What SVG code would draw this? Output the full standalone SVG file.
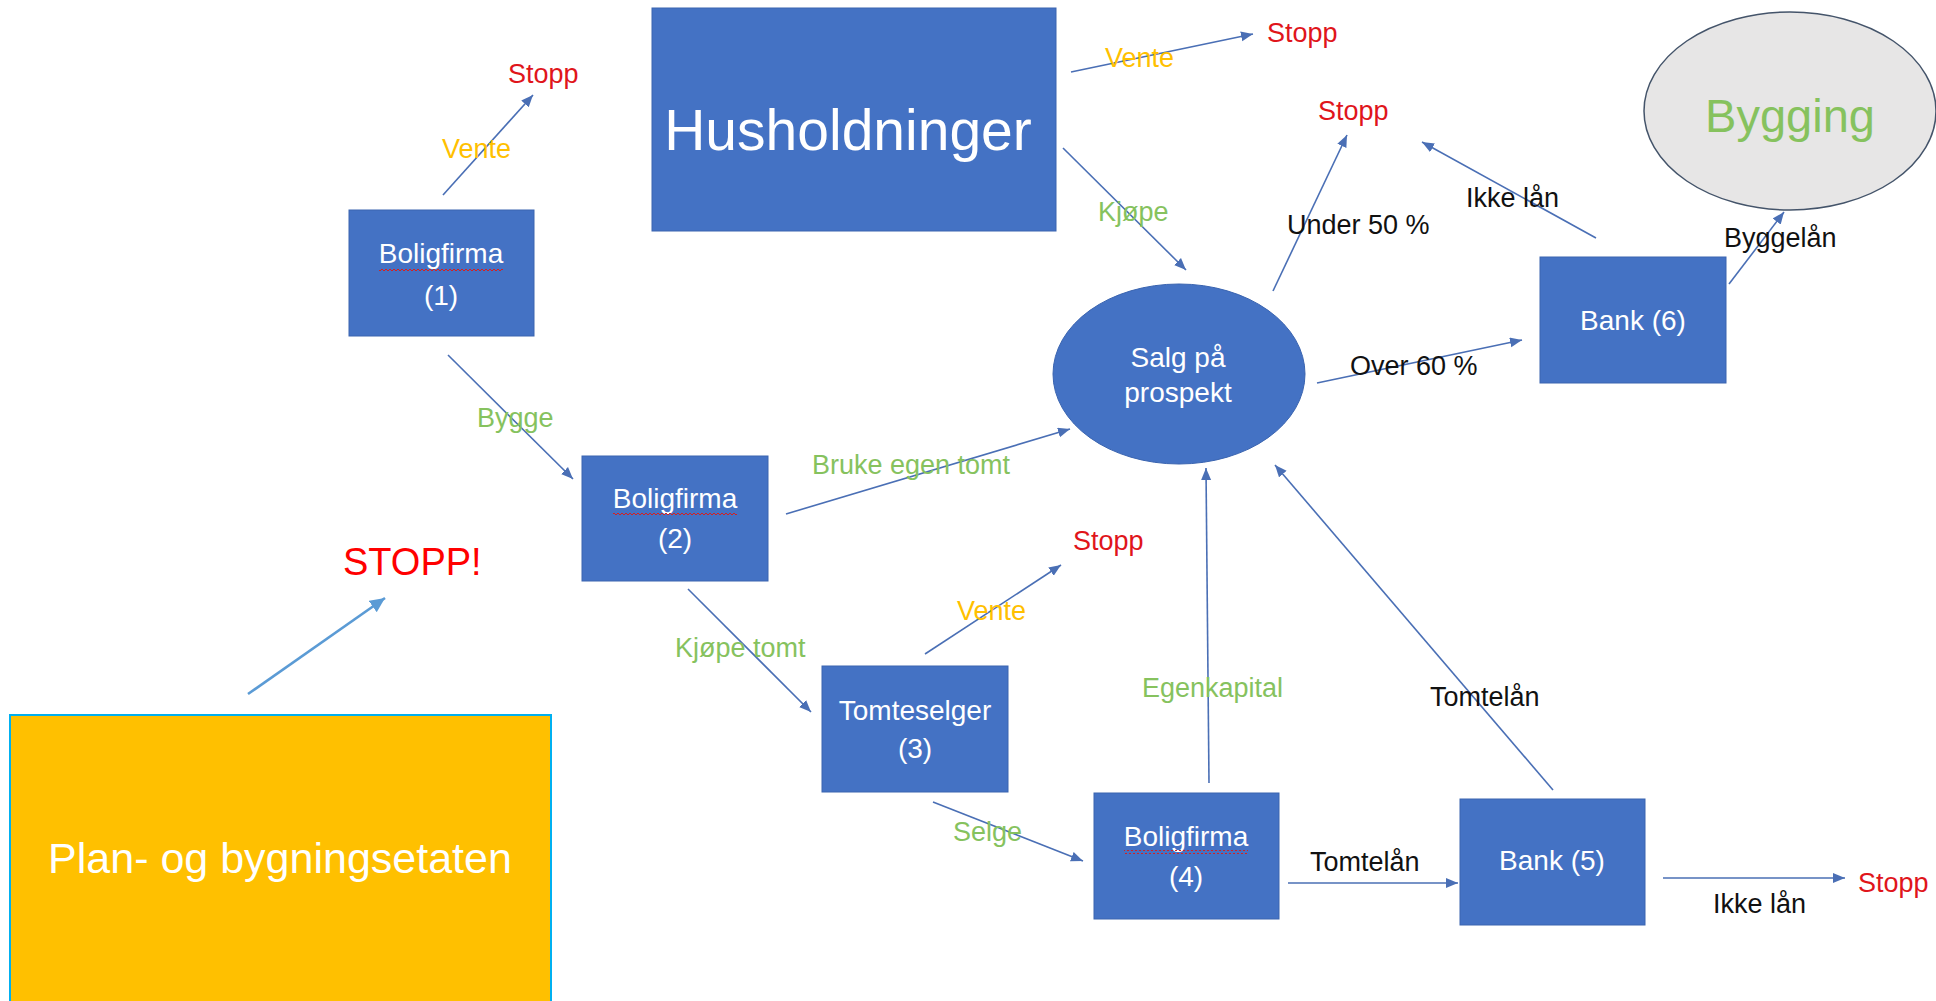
<svg xmlns="http://www.w3.org/2000/svg" width="1936" height="1001" viewBox="0 0 1936 1001">
<style>
  text { font-family: "Liberation Sans", Arial, sans-serif; }
  .box { fill: #4472C4; stroke: #3A64B0; stroke-width: 1; }
  .nt { fill: #FFFFFF; font-size: 28px; text-anchor: middle; }
  .lbl { font-size: 27px; }
  .red { fill: #E0151B; }
  .yel { fill: #FFC000; }
  .grn { fill: #86C25E; }
  .blk { fill: #111111; }
  .con { stroke: #4A6FB5; stroke-width: 1.6; fill: none; marker-end: url(#ah); }
  .con2 { stroke: #5B9BD5; stroke-width: 2.6; fill: none; marker-end: url(#ah2); }
</style>
<defs>
  <marker id="ah" markerUnits="userSpaceOnUse" markerWidth="14" markerHeight="12" refX="12" refY="5" orient="auto">
    <path d="M0,0 L12,5 L0,10 Z" fill="#4A6FB5"/>
  </marker>
  <marker id="ah2" markerUnits="userSpaceOnUse" markerWidth="18" markerHeight="16" refX="15" refY="7" orient="auto">
    <path d="M0,0 L15,7 L0,14 Z" fill="#5B9BD5"/>
  </marker>
  <pattern id="wavy" patternUnits="userSpaceOnUse" width="4" height="4">
    <path d="M0,3 L2,1 L4,3" stroke="#D42020" stroke-width="1" fill="none"/>
  </pattern>
</defs>
<rect width="1936" height="1001" fill="#FFFFFF"/>

<g id="connectors">
  <line class="con" x1="443" y1="195" x2="533" y2="95"/>
  <line class="con" x1="448" y1="355" x2="573" y2="479"/>
  <line class="con" x1="1071" y1="72" x2="1253" y2="34"/>
  <line class="con" x1="1063" y1="148" x2="1186" y2="270"/>
  <line class="con" x1="1273" y1="291" x2="1347" y2="135"/>
  <line class="con" x1="1317" y1="383" x2="1522" y2="340"/>
  <line class="con" x1="1596" y1="238" x2="1422" y2="142"/>
  <line class="con" x1="1729" y1="284" x2="1784" y2="212"/>
  <line class="con" x1="786" y1="514" x2="1070" y2="429"/>
  <line class="con" x1="688" y1="589" x2="811" y2="712"/>
  <line class="con" x1="925" y1="654" x2="1061" y2="565"/>
  <line class="con" x1="933" y1="802" x2="1083" y2="861"/>
  <line class="con" x1="1209" y1="783" x2="1206" y2="468"/>
  <line class="con" x1="1288" y1="883" x2="1458" y2="883"/>
  <line class="con" x1="1553" y1="790" x2="1275" y2="465"/>
  <line class="con" x1="1663" y1="878" x2="1845" y2="878"/>
  <line class="con2" x1="248" y1="694" x2="385" y2="598"/>
</g>

<g id="edge-labels">
  <text class="lbl red" x="508" y="83">Stopp</text>
  <text class="lbl yel" x="442" y="158">Vente</text>
  <text class="lbl grn" x="477" y="427">Bygge</text>
  <text class="lbl yel" x="1105" y="67">Vente</text>
  <text class="lbl red" x="1267" y="42">Stopp</text>
  <text class="lbl grn" x="1098" y="221">Kjøpe</text>
  <text class="lbl red" x="1318" y="120">Stopp</text>
  <text class="lbl blk" x="1287" y="234">Under 50 %</text>
  <text class="lbl blk" x="1466" y="207">Ikke lån</text>
  <text class="lbl blk" x="1724" y="247">Byggelån</text>
  <text class="lbl blk" x="1350" y="375">Over 60 %</text>
  <text class="lbl grn" x="812" y="474">Bruke egen tomt</text>
  <text class="lbl grn" x="675" y="657">Kjøpe tomt</text>
  <text class="lbl yel" x="957" y="620">Vente</text>
  <text class="lbl red" x="1073" y="550">Stopp</text>
  <text class="lbl grn" x="1142" y="697">Egenkapital</text>
  <text class="lbl blk" x="1430" y="706">Tomtelån</text>
  <text class="lbl grn" x="953" y="841">Selge</text>
  <text class="lbl blk" x="1310" y="871">Tomtelån</text>
  <text class="lbl blk" x="1713" y="913">Ikke lån</text>
  <text class="lbl red" x="1858" y="892">Stopp</text>
  <text x="343" y="575" font-size="38" fill="#FF0000">STOPP!</text>
</g>

<g id="husholdninger">
  <rect class="box" x="652" y="8" width="404" height="223"/>
  <text x="848" y="150" font-size="57" fill="#FFFFFF" text-anchor="middle">Husholdninger</text>
</g>

<g id="boligfirma1">
  <rect class="box" x="349" y="210" width="185" height="126"/>
  <text class="nt" x="441" y="263">Boligfirma</text>
  <rect x="379" y="267" width="124" height="4" fill="url(#wavy)"/>
  <text class="nt" x="441" y="305">(1)</text>
</g>

<g id="boligfirma2">
  <rect class="box" x="582" y="456" width="186" height="125"/>
  <text class="nt" x="675" y="508">Boligfirma</text>
  <rect x="613" y="512" width="124" height="4" fill="url(#wavy)"/>
  <text class="nt" x="675" y="548">(2)</text>
</g>

<g id="tomteselger3">
  <rect class="box" x="822" y="666" width="186" height="126"/>
  <text class="nt" x="915" y="720">Tomteselger</text>
  <text class="nt" x="915" y="758">(3)</text>
</g>

<g id="boligfirma4">
  <rect class="box" x="1094" y="793" width="185" height="126"/>
  <text class="nt" x="1186" y="846">Boligfirma</text>
  <rect x="1124" y="850" width="124" height="4" fill="url(#wavy)"/>
  <text class="nt" x="1186" y="886">(4)</text>
</g>

<g id="bank5">
  <rect class="box" x="1460" y="799" width="185" height="126"/>
  <text class="nt" x="1552" y="870">Bank (5)</text>
</g>

<g id="bank6">
  <rect class="box" x="1540" y="257" width="186" height="126"/>
  <text class="nt" x="1633" y="330">Bank (6)</text>
</g>

<g id="salg">
  <ellipse cx="1179" cy="374" rx="126" ry="90" fill="#4472C4" stroke="#3A64B0" stroke-width="1"/>
  <text class="nt" x="1178" y="367" font-size="27">Salg på</text>
  <text class="nt" x="1178" y="402" font-size="27">prospekt</text>
</g>

<g id="bygging">
  <ellipse cx="1790" cy="111" rx="146" ry="99" fill="#E7E6E6" stroke="#44546A" stroke-width="1.5"/>
  <text x="1790" y="132" font-size="47" fill="#86C25E" text-anchor="middle">Bygging</text>
</g>

<g id="plan">
  <rect x="10" y="715" width="541" height="300" fill="#FFC000" stroke="#00B0F0" stroke-width="2"/>
  <text x="280" y="873" font-size="43" fill="#FFFFFF" text-anchor="middle">Plan- og bygningsetaten</text>
</g>
</svg>
